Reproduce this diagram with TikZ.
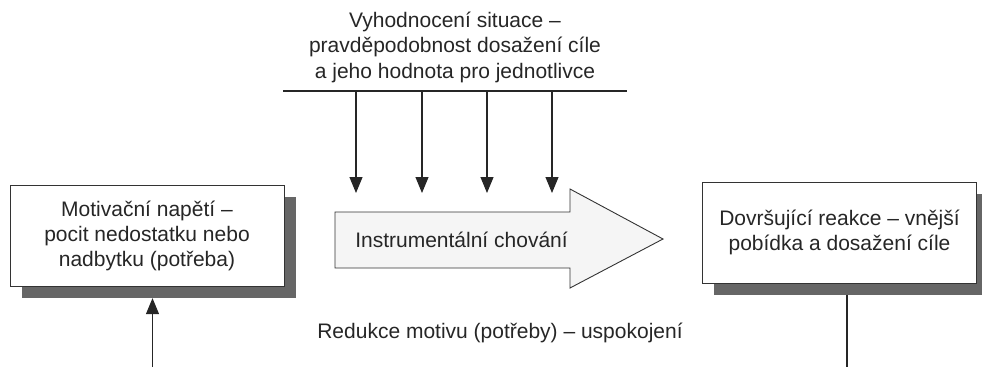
\documentclass[tikz,border=0pt]{standalone}
\usepackage{fontspec}
\setmainfont{Liberation Sans}
\usetikzlibrary{arrows.meta,shadows}
\begin{document}
\begin{tikzpicture}[x=1pt,y=-1pt,
  txt/.style={font=\fontsize{21}{25.5}\selectfont, text=black!85, align=center, inner sep=0pt},
  mbox/.style={draw=black!80, line width=0.9pt, fill=white, minimum width=274pt, minimum height=101pt,
    drop shadow={shadow xshift=11.5pt, shadow yshift=-11.5pt, fill=black!60, opacity=1},
    font=\fontsize{21}{25}\selectfont, text=black!85, align=center, inner sep=0pt},
  conn/.style={line width=1.1pt, draw=black!85},
  tipd/.style={-{Triangle[length=16pt,width=13pt]}}]
\useasboundingbox (0,0) rectangle (982,367);

% top text and bar
\node[txt] (T) at (455,47) {Vyhodnocení situace –\\pravděpodobnost dosažení cíle\\a jeho hodnota pro jednotlivce};
\coordinate (barL) at (283,91);
\coordinate (barR) at (627,91);
\draw[conn, line width=1.5pt] (barL) -- (barR);

% vertical arrows
\foreach \i/\x in {1/356,2/422,3/487,4/552}{
  \coordinate (s\i) at (\x,91);
  \coordinate (e\i) at (\x,193);
  \draw[conn, tipd] (s\i) -- (e\i);
}

% boxes
\node[mbox] (L) at (147,235.7) {Motivační napětí –\\pocit nedostatku nebo\\nadbytku (potřeba)};
\node[mbox] (R) at (839.5,232.5) {Dovršující reakce – vnější\\pobídka a dosažení cíle};

% big arrow
\filldraw[draw=black!80, line width=0.9pt, fill=black!4]
  (335,212) -- (570,212) -- (570,189) -- (663,239) -- (570,288) -- (570,268) -- (335,268) -- cycle;
\node[txt] (I) at (461.5,240) {Instrumentální chování};

% bottom label
\node[txt] (B) at (500,333) {Redukce motivu (potřeby) – uspokojení};

% bottom connectors
\coordinate (lb) at (152.5,367);
\draw[conn, tipd] (lb) -- ([xshift=5.5pt,yshift=-11.5pt]L.south);
\coordinate (rb) at (847,367);
\draw[conn] ([xshift=7.5pt,yshift=-11.5pt]R.south) -- (rb);
\end{tikzpicture}
\end{document}
